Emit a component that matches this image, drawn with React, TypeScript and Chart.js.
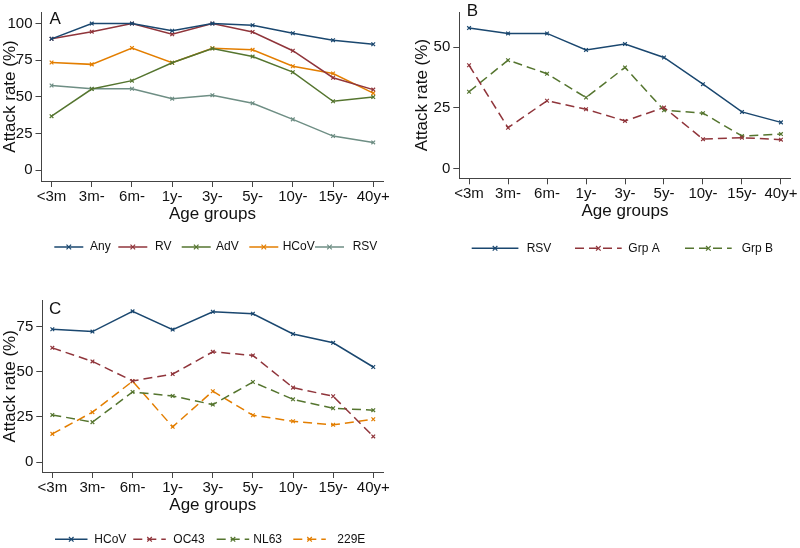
import { useEffect, useRef } from 'react';
import { Chart, registerables } from 'chart.js';

Chart.register(...registerables);

// ---------- data ----------
const ageGroups = ['<3m', '3m-', '6m-', '1y-', '3y-', '5y-', '10y-', '15y-', '40y+'];

// Panel A
const anyVirus = [89.6, 100, 100, 95.1, 100, 98.9, 93.4, 88.7, 85.9];
const rvRate = [89.6, 94.5, 100, 92.7, 100, 94.3, 81.5, 63.1, 55.0];
const advRate = [36.9, 55.4, 61.1, 73.3, 83.0, 77.5, 66.9, 47.0, 49.9];
const hcovRate = [73.5, 72.2, 83.4, 73.3, 83.2, 82.1, 70.9, 66.0, 52.6];
const rsvRate = [57.8, 55.6, 55.6, 48.8, 51.2, 45.7, 34.7, 23.3, 19.0];

// Panel B
const rsvGrpA = [42.5, 16.8, 27.9, 24.4, 19.6, 25.1, 12.1, 12.7, 11.9];
const rsvGrpB = [31.6, 44.6, 39.0, 29.2, 41.6, 24.0, 22.8, 13.4, 14.2];

// Panel C
const oc43Rate = [63.2, 55.7, 44.9, 48.7, 61.0, 59.0, 41.2, 36.4, 14.2];
const nl63Rate = [26.1, 22.1, 38.8, 36.6, 31.8, 44.3, 34.7, 29.8, 28.7];
const e229Rate = [15.6, 27.6, 44.7, 19.5, 39.2, 25.9, 22.6, 20.6, 23.7];

const ticksA = [0, 25, 50, 75, 100];
const ticksB = [0, 25, 50];
const ticksC = [0, 25, 50, 75];

// ---------- style ----------
const NAVY = '#1a476f';
const MAROON = '#90353b';
const GREEN = '#55752f';
const ORANGE = '#e37e00';
const TEAL = '#6e8e84';
const FONT = "'Liberation Sans', Arial, Helvetica, sans-serif";
const TEXT = '#111111';
const AXIS = '#444444';
const DASH = [9, 5];

type Series = { label: string; values: number[]; color: string; dash?: number[] };

type PanelCfg = {
  width: number;
  height: number;
  left: number;
  top: number;
  areaLeft: number;
  areaRight: number;
  areaTop: number;
  areaBottom: number;
  yMin: number;
  yMax: number;
  yTicks: number[];
  yTitlePad: number;
  series: Series[];
  key: { y: number; sampleX: number[]; sampleLen: number; textX: number[] };
  letter: { text: string; x: number; y: number };
};

function makeKeyPlugin(cfg: PanelCfg) {
  return {
    id: 'stataKey',
    afterDraw(chart: any) {
      const ctx = chart.ctx as CanvasRenderingContext2D;
      ctx.save();
      cfg.series.forEach((s, i) => {
        const x0 = cfg.key.sampleX[i];
        const x1 = x0 + cfg.key.sampleLen;
        const y = cfg.key.y;
        ctx.strokeStyle = s.color;
        ctx.lineWidth = 1.5;
        ctx.setLineDash(s.dash || []);
        ctx.beginPath();
        ctx.moveTo(x0, y);
        ctx.lineTo(x1, y);
        ctx.stroke();
        ctx.setLineDash([]);
        const cx = (x0 + x1) / 2;
        const r = 2.3;
        ctx.lineWidth = 1.2;
        ctx.beginPath();
        ctx.moveTo(cx - r, y - r);
        ctx.lineTo(cx + r, y + r);
        ctx.moveTo(cx - r, y + r);
        ctx.lineTo(cx + r, y - r);
        ctx.stroke();
        ctx.fillStyle = TEXT;
        ctx.font = `12px ${FONT}`;
        ctx.textBaseline = 'middle';
        ctx.textAlign = 'left';
        ctx.fillText(s.label, cfg.key.textX[i], y);
      });
      ctx.fillStyle = TEXT;
      ctx.font = `17px ${FONT}`;
      ctx.textBaseline = 'alphabetic';
      ctx.textAlign = 'left';
      ctx.fillText(cfg.letter.text, cfg.letter.x, cfg.letter.y);
      ctx.restore();
    },
  };
}

const X_AXIS_H = 50;

function Panel({ cfg }: { cfg: PanelCfg }) {
  const ref = useRef<HTMLCanvasElement | null>(null);
  useEffect(() => {
    if (!ref.current) return;
    const chart = new Chart(ref.current, {
      type: 'line',
      data: {
        datasets: cfg.series.map((s) => ({
          label: s.label,
          data: s.values.map((v, i) => ({ x: i, y: v })),
          borderColor: s.color,
          backgroundColor: s.color,
          borderWidth: 1.5,
          borderDash: s.dash || [],
          pointStyle: 'crossRot',
          pointRadius: 2.6,
          pointBorderWidth: 1.2,
          pointBorderColor: s.color,
          pointBackgroundColor: s.color,
          tension: 0,
          fill: false,
        })),
      },
      options: {
        animation: false,
        responsive: false,
        maintainAspectRatio: false,
        devicePixelRatio: 1,
        layout: {
          padding: {
            left: 0,
            top: cfg.areaTop,
            right: cfg.width - cfg.areaRight,
            bottom: cfg.height - cfg.areaBottom - X_AXIS_H,
          },
        },
        plugins: {
          legend: { display: false },
          tooltip: { enabled: false },
          title: { display: false },
        },
        scales: {
          x: {
            type: 'linear',
            min: -0.25,
            max: ageGroups.length - 0.75,
            afterBuildTicks: (scale: any) => {
              scale.ticks = ageGroups.map((_, i) => ({ value: i }));
            },
            afterFit: (scale: any) => {
              scale.height = X_AXIS_H;
            },
            ticks: {
              autoSkip: false,
              maxRotation: 0,
              minRotation: 0,
              padding: 1,
              color: TEXT,
              font: { family: FONT, size: 15 },
              callback: (_v: any, i: number) => ageGroups[i],
            },
            grid: {
              display: true,
              drawOnChartArea: false,
              drawTicks: true,
              tickLength: 6,
              color: AXIS,
              lineWidth: 1,
            },
            border: { display: true, color: AXIS, width: 1 },
            title: {
              display: true,
              text: 'Age groups',
              color: TEXT,
              font: { family: FONT, size: 17 },
              padding: { top: 0, bottom: 6.3 },
            },
          },
          y: {
            type: 'linear',
            min: cfg.yMin,
            max: cfg.yMax,
            afterBuildTicks: (scale: any) => {
              scale.ticks = cfg.yTicks.map((v) => ({ value: v }));
            },
            afterFit: (scale: any) => {
              scale.width = cfg.areaLeft;
            },
            ticks: {
              padding: 3,
              color: TEXT,
              font: { family: FONT, size: 15 },
            },
            grid: {
              display: true,
              drawOnChartArea: false,
              drawTicks: true,
              tickLength: 6,
              color: AXIS,
              lineWidth: 1,
            },
            border: { display: true, color: AXIS, width: 1 },
            title: {
              display: true,
              text: 'Attack rate (%)',
              color: TEXT,
              font: { family: FONT, size: 17 },
              padding: { top: cfg.yTitlePad, bottom: 0 },
            },
          },
        },
      } as any,
      plugins: [makeKeyPlugin(cfg)],
    });
    return () => chart.destroy();
  }, [cfg]);
  return (
    <canvas
      ref={ref}
      width={cfg.width}
      height={cfg.height}
      style={{
        position: 'absolute',
        left: cfg.left,
        top: cfg.top,
        width: cfg.width,
        height: cfg.height,
        display: 'block',
      }}
    />
  );
}

const panelA: PanelCfg = {
  width: 400,
  height: 275,
  left: 0,
  top: 0,
  areaLeft: 41.5,
  areaRight: 383.3,
  areaTop: 7,
  areaBottom: 181,
  yMin: -7.3,
  yMax: 107.9,
  yTicks: ticksA,
  yTitlePad: 0,
  series: [
    { label: 'Any', values: anyVirus, color: NAVY },
    { label: 'RV', values: rvRate, color: MAROON },
    { label: 'AdV', values: advRate, color: GREEN },
    { label: 'HCoV', values: hcovRate, color: ORANGE },
    { label: 'RSV', values: rsvRate, color: TEAL },
  ],
  key: {
    y: 247,
    sampleX: [54.3, 118.3, 181.7, 249.3, 315],
    sampleLen: 29,
    textX: [90, 155, 216, 282.7, 352.7],
  },
  letter: { text: 'A', x: 49.5, y: 23.5 },
};

const panelB: PanelCfg = {
  width: 400,
  height: 275,
  left: 400,
  top: 0,
  areaLeft: 59.3,
  areaRight: 390.7,
  areaTop: 8.3,
  areaBottom: 178.3,
  yMin: -4.0,
  yMax: 64.4,
  yTicks: ticksB,
  yTitlePad: 11.8,
  series: [
    { label: 'RSV', values: rsvRate, color: NAVY },
    { label: 'Grp A', values: rsvGrpA, color: MAROON, dash: DASH },
    { label: 'Grp B', values: rsvGrpB, color: GREEN, dash: DASH },
  ],
  key: {
    y: 248.3,
    sampleX: [71.7, 175, 285],
    sampleLen: 46.7,
    textX: [126.7, 228.3, 341.7],
  },
  letter: { text: 'B', x: 66.7, y: 15.5 },
};

const panelC: PanelCfg = {
  width: 400,
  height: 268,
  left: 0,
  top: 280,
  areaLeft: 42.3,
  areaRight: 383.3,
  areaTop: 20.7,
  areaBottom: 192,
  yMin: -5.5,
  yMax: 89.3,
  yTicks: ticksC,
  yTitlePad: 0,
  series: [
    { label: 'HCoV', values: hcovRate, color: NAVY },
    { label: 'OC43', values: oc43Rate, color: MAROON, dash: DASH },
    { label: 'NL63', values: nl63Rate, color: GREEN, dash: DASH },
    { label: '229E', values: e229Rate, color: ORANGE, dash: DASH },
  ],
  key: {
    y: 259.3,
    sampleX: [55, 133.3, 216.7, 293.3],
    sampleLen: 32.5,
    textX: [94.3, 173.3, 253.3, 337.3],
  },
  letter: { text: 'C', x: 49, y: 34 },
};

export default function App() {
  return (
    <div
      style={{
        position: 'absolute',
        left: 0,
        top: 0,
        width: 800,
        height: 548,
        background: '#ffffff',
        overflow: 'hidden',
      }}
    >
      <Panel cfg={panelA} />
      <Panel cfg={panelB} />
      <Panel cfg={panelC} />
    </div>
  );
}
